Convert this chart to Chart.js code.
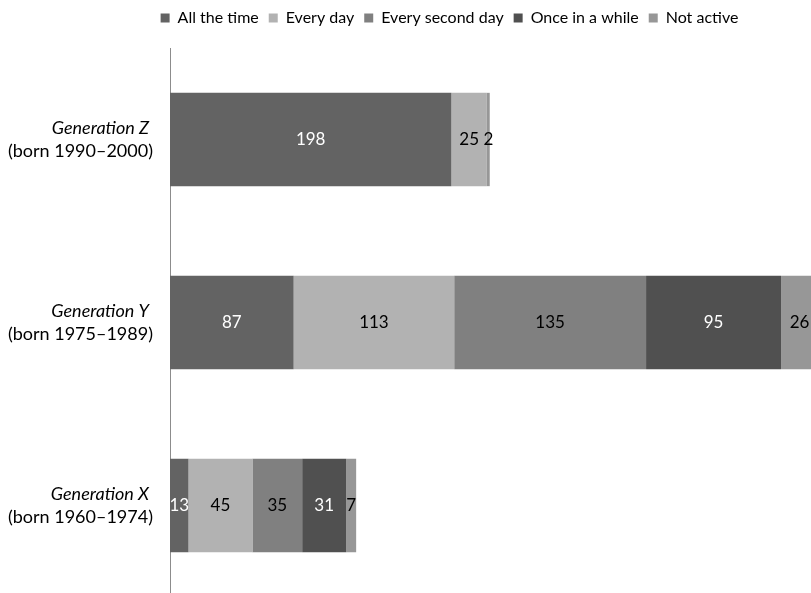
<!DOCTYPE html>
<html>
<head>
<meta charset="utf-8">
<script src="https://cdn.jsdelivr.net/npm/chart.js@4/dist/chart.umd.min.js"></script>
<style>
  html, body { margin: 0; padding: 0; overflow: hidden; background: #fff; }
  #wrap { width: 830px; height: 600px; }
</style>
</head>
<body>
<div id="wrap"><canvas id="genChart" width="830" height="600"></canvas></div>
<script>
// Generationen und ihre Geburtsjahrgänge
const generations = ['Generation Z', 'Generation Y', 'Generation X'];
const bornYears = ['(born 1990–2000)', '(born 1975–1989)', '(born 1960–1974)'];

// Aktivität je Generation
const allTheTime = [198, 87, 13];
const everyDay = [25, 113, 45];
const everySecondDay = [0, 135, 35];
const onceInAWhile = [0, 95, 31];
const notActive = [2, 26, 7];

const seriesNames = ['All the time', 'Every day', 'Every second day', 'Once in a while', 'Not active'];
const seriesValues = [allTheTime, everyDay, everySecondDay, onceInAWhile, notActive];
const seriesColors = ['#636363', '#b2b2b2', '#808080', '#505050', '#979797'];
const labelColors = ['#ffffff', '#000000', '#000000', '#ffffff', '#000000'];

const FONT = 'Lato, "Open Sans", sans-serif';

// Zahlen mittig in die Balkensegmente schreiben
const segmentLabels = {
  id: 'segmentLabels',
  afterDatasetsDraw(chart) {
    const ctx = chart.ctx;
    ctx.save();
    ctx.font = '17px ' + FONT;
    ctx.textAlign = 'center';
    ctx.textBaseline = 'middle';
    chart.data.datasets.forEach((ds, i) => {
      const meta = chart.getDatasetMeta(i);
      meta.data.forEach((bar, j) => {
        const v = ds.data[j];
        if (!v) return;
        const p = bar.getProps(['x', 'y', 'base'], true);
        ctx.fillStyle = labelColors[i];
        ctx.fillText(String(v), (p.x + p.base) / 2, p.y);
      });
    });
    ctx.restore();
  }
};

// Zweizeilige Kategorien: Name kursiv, Jahrgänge normal
const categoryLabels = {
  id: 'categoryLabels',
  afterDraw(chart) {
    const ctx = chart.ctx;
    const yScale = chart.scales.y;
    ctx.save();
    ctx.textAlign = 'right';
    ctx.textBaseline = 'middle';
    ctx.fillStyle = '#000';
    generations.forEach((g, i) => {
      const y = yScale.getPixelForValue(i);
      ctx.font = 'italic 18px ' + FONT;
      ctx.fillText(g, 149, y - 11);
      ctx.font = '18px ' + FONT;
      ctx.fillText(bornYears[i], 153, y + 12);
    });
    ctx.restore();
  }
};

// Mehr Abstand unter der Legende
const legendSpace = {
  id: 'legendSpace',
  beforeUpdate(chart) {
    const legend = chart.legend;
    if (!legend || legend._spaced) return;
    const fit = legend.fit;
    legend.fit = function () {
      fit.call(this);
      this.height = 48;
    };
    legend._spaced = true;
  }
};

new Chart(document.getElementById('genChart'), {
  type: 'bar',
  data: {
    labels: generations,
    datasets: seriesNames.map((name, i) => ({
      label: name,
      data: seriesValues[i],
      backgroundColor: seriesColors[i],
      borderWidth: 0,
      categoryPercentage: 1,
      barPercentage: 0.51
    }))
  },
  options: {
    indexAxis: 'y',
    responsive: false,
    animation: false,
    layout: { padding: { left: 81, right: 12, top: 0, bottom: 3 } },
    plugins: {
      legend: {
        position: 'top',
        labels: {
          boxWidth: 9,
          boxHeight: 9,
          padding: 10,
          color: '#000',
          font: { family: FONT, size: 16 }
        }
      },
      tooltip: { enabled: false }
    },
    scales: {
      x: {
        stacked: true,
        min: 0,
        max: 456,
        display: false
      },
      y: {
        stacked: true,
        grid: { display: false },
        border: { display: true, color: '#8c8c8c', width: 1 },
        ticks: { display: false },
        afterFit(scale) { scale.width = 89; }
      }
    }
  },
  plugins: [legendSpace, segmentLabels, categoryLabels]
});
</script>
</body>
</html>
